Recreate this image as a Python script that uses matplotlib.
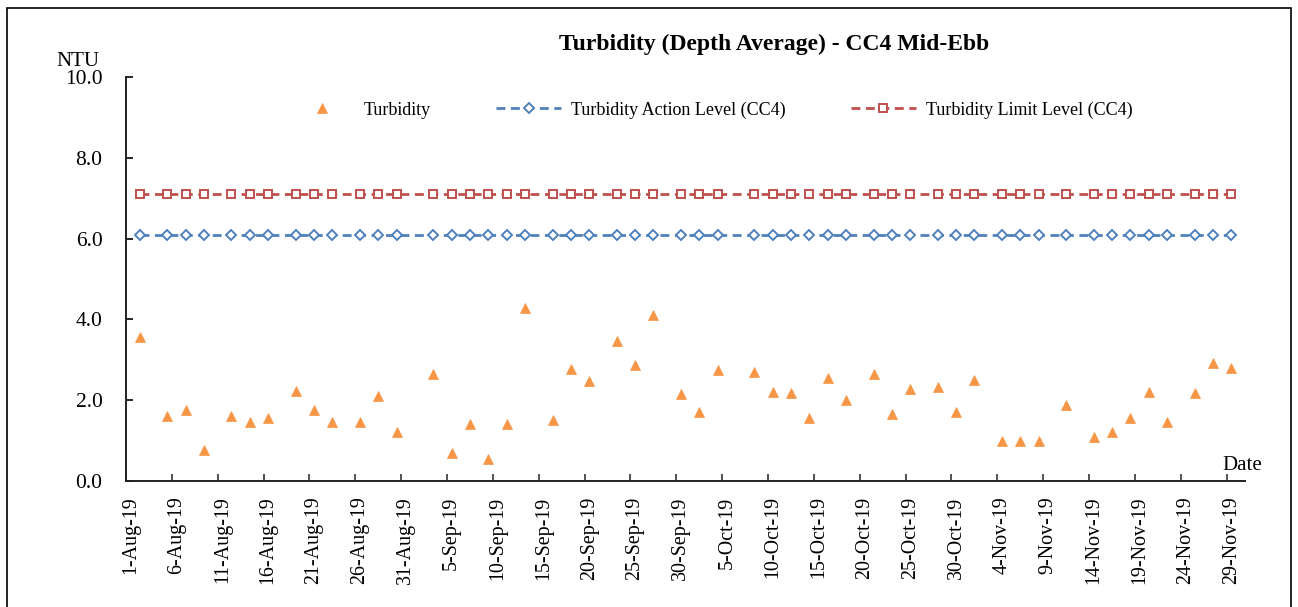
import matplotlib
matplotlib.use("Agg")
import matplotlib.pyplot as plt
from matplotlib.patches import Rectangle
import pandas as pd

plt.rcParams['font.family'] = ['Liberation Serif', 'DejaVu Serif']

# ---------------- data ----------------
sample_dates = [
    '2019-08-02', '2019-08-05', '2019-08-07', '2019-08-09', '2019-08-12', '2019-08-14', '2019-08-16',
    '2019-08-19', '2019-08-21', '2019-08-23', '2019-08-26', '2019-08-28', '2019-08-30',
    '2019-09-03', '2019-09-05', '2019-09-07', '2019-09-09', '2019-09-11', '2019-09-13', '2019-09-16',
    '2019-09-18', '2019-09-20', '2019-09-23', '2019-09-25', '2019-09-27', '2019-09-30',
    '2019-10-02', '2019-10-04', '2019-10-08', '2019-10-10', '2019-10-12', '2019-10-14', '2019-10-16',
    '2019-10-18', '2019-10-21', '2019-10-23', '2019-10-25', '2019-10-28', '2019-10-30',
    '2019-11-01', '2019-11-04', '2019-11-06', '2019-11-08', '2019-11-11', '2019-11-14', '2019-11-16',
    '2019-11-18', '2019-11-20', '2019-11-22', '2019-11-25', '2019-11-27', '2019-11-29',
]
turbidity = [
    3.57, 1.61, 1.76, 0.76, 1.62, 1.45, 1.55, 2.23, 1.75, 1.45, 1.47, 2.11, 1.21,
    2.64, 0.69, 1.42, 0.55, 1.40, 4.27, 1.50, 2.78, 2.47, 3.47, 2.87, 4.12, 2.16,
    1.70, 2.75, 2.70, 2.20, 2.17, 1.55, 2.55, 2.01, 2.64, 1.65, 2.27, 2.32, 1.70,
    2.49, 0.98, 1.00, 0.98, 1.88, 1.10, 1.21, 1.55, 2.21, 1.46, 2.17, 2.92, 2.79,
]
action_level = [6.1] * len(sample_dates)
limit_level = [7.1] * len(sample_dates)

tick_dates = pd.date_range('2019-08-01', '2019-11-29', freq='5D')
tick_labels = [f"{d.day}-{d.strftime('%b')}-{d.strftime('%y')}" for d in tick_dates]
y_ticks = [0, 2, 4, 6, 8, 10]

series_names = ['Turbidity', 'Turbidity Action Level (CC4)', 'Turbidity Limit Level (CC4)']
title = 'Turbidity (Depth Average) - CC4 Mid-Ebb'

# ---------------- figure ----------------
W, H = 1298, 607
fig = plt.figure(figsize=(W / 100, H / 100), dpi=100)
ax = fig.add_axes([126 / W, 1 - 481 / H, (1245 - 126) / W, (481 - 77) / H])

x = pd.to_datetime(sample_dates)

ORANGE = '#F79646'
BLUE = '#4F81BD'
RED = '#C0504D'

ax.plot(x, turbidity, linestyle='none', marker='^', markersize=7, color=ORANGE,
        markeredgecolor=ORANGE, markeredgewidth=0.5, label=series_names[0], zorder=4)
ax.plot(x, action_level, color=BLUE, linewidth=2.0, dashes=(3.2, 2.0), marker='D',
        markersize=4.6, markerfacecolor='white', markeredgecolor=BLUE, markeredgewidth=1.4,
        label=series_names[1], zorder=3)
ax.plot(x, limit_level, color=RED, linewidth=2.0, dashes=(3.2, 2.0), marker='s',
        markersize=6.2, markerfacecolor='white', markeredgecolor=RED, markeredgewidth=1.4,
        label=series_names[2], zorder=3)

half = pd.Timedelta(hours=12)
ax.set_xlim(pd.Timestamp('2019-08-01') - half, pd.Timestamp('2019-11-30') + half)
ax.set_ylim(0, 10)

# y axis
ax.set_yticks(y_ticks)
ax.set_yticklabels([f"{v:.1f}" for v in y_ticks], fontsize=15.5)
ax.tick_params(axis='y', direction='in', length=5, width=1.2, pad=17, colors='black')

# x axis: labels centred on days, tick marks on day boundaries
ax.set_xticks(tick_dates)
ax.set_xticklabels(tick_labels, rotation=90, fontsize=14.4)
ax.tick_params(axis='x', which='major', length=0, pad=11)
ax.set_xticks(list(tick_dates - half), minor=True)
ax.tick_params(axis='x', which='minor', direction='in', length=5, width=1.2, color='#333333')

for s in ['top', 'right']:
    ax.spines[s].set_visible(False)
for s in ['left', 'bottom']:
    ax.spines[s].set_linewidth(1.4)
    ax.spines[s].set_color('#222222')

# title & labels
fig.text(774 / W, 1 - 44 / H, title, ha='center', va='center', fontsize=17, fontweight='bold')
fig.text(78 / W, 1 - 61 / H, 'NTU', ha='center', va='center', fontsize=15)
fig.text(1242 / W, 1 - 465 / H, 'Date', ha='center', va='center', fontsize=15)

leg = ax.legend(loc='center left', bbox_to_anchor=(289 / W, 1 - 110 / H),
                bbox_transform=fig.transFigure, ncol=3, frameon=False, fontsize=13,
                handlelength=3.6, handletextpad=0.55, columnspacing=3.6,
                borderpad=0, borderaxespad=0, numpoints=1)

# outer frame
fig.patches.append(Rectangle((7 / W, -0.05), (1291 - 7) / W, 1.05 - 8 / H,
                             transform=fig.transFigure, fill=False,
                             edgecolor='black', linewidth=1.2))

fig.savefig('out.png', dpi=100)
